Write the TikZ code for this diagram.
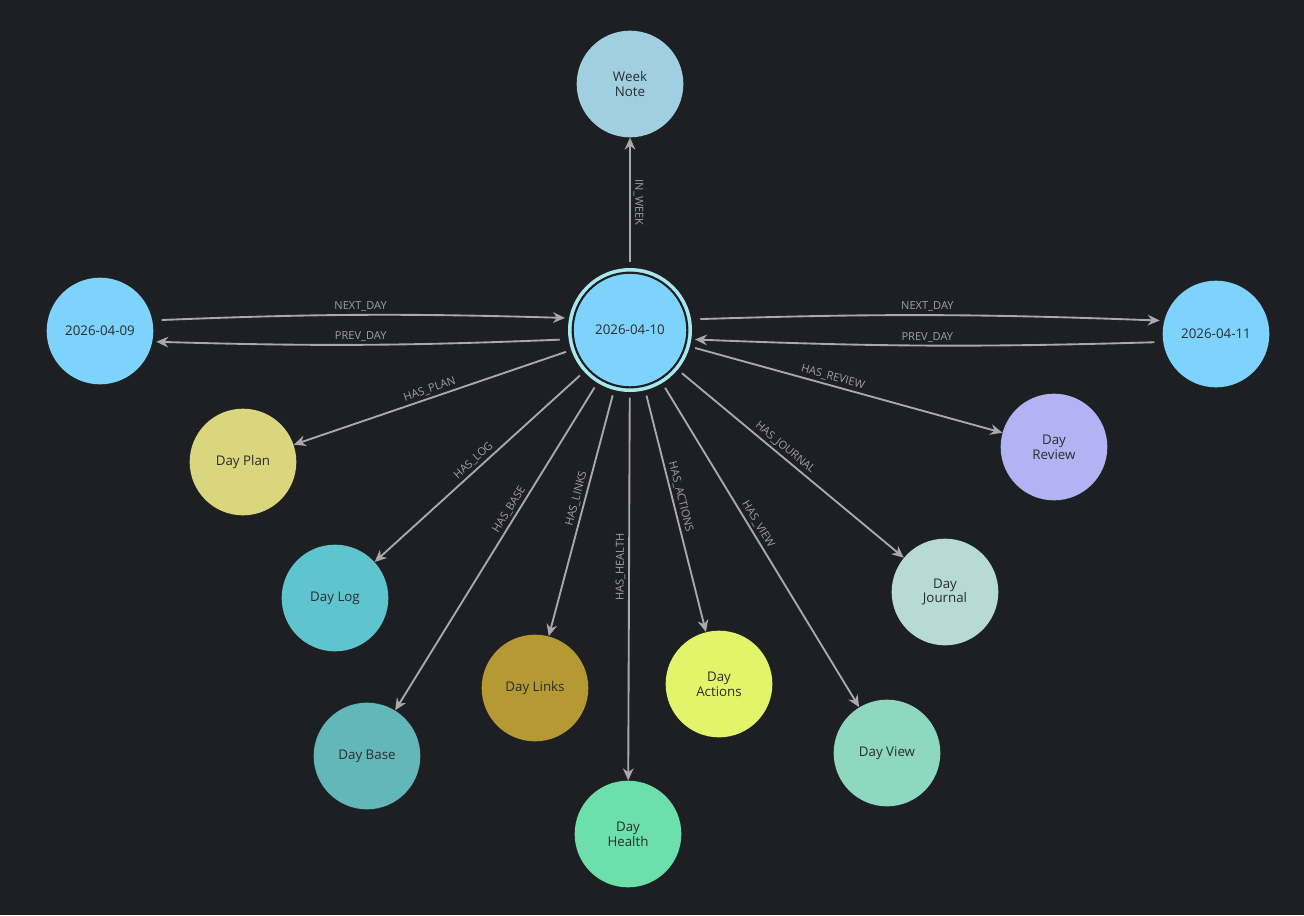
\documentclass[tikz,border=0pt]{standalone}
\usepackage{fontspec}
\setmainfont{Open Sans}
\usetikzlibrary{arrows.meta}
\definecolor{bg}{HTML}{1E1F22}
\definecolor{txt}{HTML}{2A2C30}
\definecolor{edgec}{HTML}{A9A9AB}
\definecolor{lab}{HTML}{A0A0A3}
\definecolor{ring}{HTML}{A6E8EE}
\definecolor{cdate}{HTML}{7DD3FC}
\definecolor{cweek}{HTML}{9FCFE0}
\definecolor{cplan}{HTML}{D9D67E}
\definecolor{clog}{HTML}{5EC5CF}
\definecolor{cbase}{HTML}{62B8B8}
\definecolor{clinks}{HTML}{B59A34}
\definecolor{chealth}{HTML}{6DDFAA}
\definecolor{cactions}{HTML}{E2F56A}
\definecolor{cview}{HTML}{8FD8C0}
\definecolor{cjournal}{HTML}{B5DBD2}
\definecolor{creview}{HTML}{B3B3F3}
\begin{document}
\begin{tikzpicture}[x=0.75pt,y=-0.75pt,
  nd/.style={circle,minimum size=80pt,inner sep=0pt,align=center,text=txt,font=\fontsize{10}{11}\selectfont},
  edge/.style={draw=edgec,line width=1.4pt,-{Stealth[length=9pt,width=8pt]}},
  el/.style={text=lab,font=\fontsize{8.3}{9}\selectfont,sloped,above,inner sep=2pt}]
\fill[bg] (0,0) rectangle (1304,915);
\useasboundingbox (0,0) rectangle (1304,915);
% center
\fill[ring] (630,330) circle (62);
\node[nd,fill=cdate,minimum size=86pt,draw=bg,line width=1.6pt] (c) at (630,330) {2026-04-10};
\node[circle,minimum size=93pt,inner sep=0pt] (cc) at (630,330) {};
\node[nd,fill=cweek] (week) at (630,84) {Week\\Note};
\node[nd,fill=cdate] (d9) at (100,331) {2026-04-09};
\node[nd,fill=cdate] (d11) at (1216,334) {2026-04-11};
\node[nd,fill=cplan] (plan) at (243,462) {Day Plan};
\node[nd,fill=clog] (log) at (335,598) {Day Log};
\node[nd,fill=cbase] (base) at (367,756) {Day Base};
\node[nd,fill=clinks] (links) at (535,688) {Day Links};
\node[nd,fill=chealth] (health) at (628,834) {Day\\Health};
\node[nd,fill=cactions] (actions) at (719,684) {Day\\Actions};
\node[nd,fill=cview] (view) at (887,753) {Day View};
\node[nd,fill=cjournal] (journal) at (945,592) {Day\\Journal};
\node[nd,fill=creview] (review) at (1054,447) {Day\\Review};
% edges
\draw[edge,shorten <=4pt] (cc) -- node[el,above,rotate=180] {IN\_WEEK} (week);
\draw[edge,shorten <=6pt,shorten >=2pt] ([yshift=8]d9.east) to[bend left=2] node[el] {NEXT\_DAY} ([yshift=9]cc.west);
\draw[edge,shorten <=6pt,shorten >=2pt] ([yshift=-7]cc.west) to[bend left=2] node[el] {PREV\_DAY} ([yshift=-8]d9.east);
\draw[edge,shorten <=6pt,shorten >=2pt] ([yshift=8]cc.east) to[bend left=2] node[el] {NEXT\_DAY} ([yshift=10]d11.west);
\draw[edge,shorten <=6pt,shorten >=2pt] ([yshift=-6]d11.west) to[bend left=2] node[el] {PREV\_DAY} ([yshift=-7]cc.east);
\draw[edge,shorten <=4pt] (cc) -- node[el] {HAS\_PLAN} (plan);
\draw[edge,shorten <=4pt] (cc) -- node[el] {HAS\_LOG} (log);
\draw[edge,shorten <=4pt] (cc) -- node[el,pos=.4] {HAS\_BASE} (base);
\draw[edge,shorten <=4pt] (cc) -- node[el,pos=.45] {HAS\_LINKS} (links);
\draw[edge,shorten <=4pt] (cc) -- node[el,pos=.45] {HAS\_HEALTH} (health);
\draw[edge,shorten <=4pt] (cc) -- node[el,pos=.45] {HAS\_ACTIONS} (actions);
\draw[edge,shorten <=4pt] (cc) -- node[el,pos=.45] {HAS\_VIEW} (view);
\draw[edge,shorten <=4pt] (cc) -- node[el,pos=.45] {HAS\_JOURNAL} (journal);
\draw[edge,shorten <=4pt] (cc) -- node[el,pos=.45] {HAS\_REVIEW} (review);
\end{tikzpicture}
\end{document}
